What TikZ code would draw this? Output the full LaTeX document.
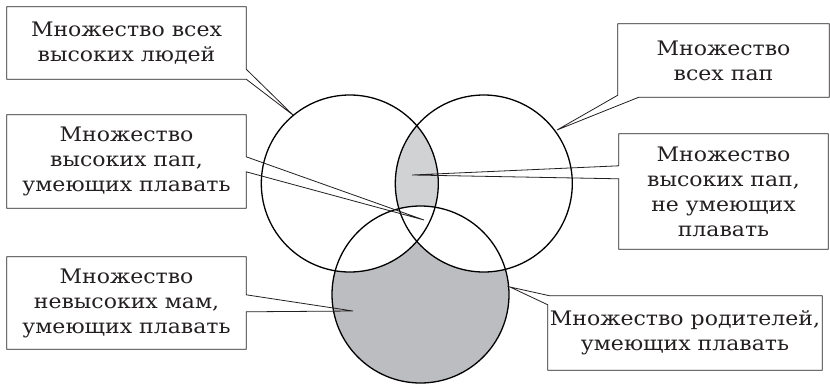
\documentclass[tikz,border=0pt]{standalone}
\usepackage{fontspec}
\setmainfont[FakeStretch=1.1]{DejaVu Serif}
\usetikzlibrary{calc}
\definecolor{lens}{RGB}{209,210,212}
\definecolor{lowfill}{RGB}{188,189,192}
\definecolor{ink}{RGB}{35,31,32}
\begin{document}
\begin{tikzpicture}[x=1pt,y=-1pt,
  lbl/.style={text=ink, font=\fontsize{20}{25}\selectfont, align=center, inner sep=0pt},
  callout/.style={draw=ink, line width=0.8pt, line join=miter},
  ring/.style={draw=black, line width=1.3pt}]
\useasboundingbox (0,0) rectangle (830,383);
% circle centres
\coordinate (cl) at (349.8,183.5);
\coordinate (cr) at (483.8,183.5);
\coordinate (cb) at (420.5,294.5);
% shading
\fill[lowfill] (cb) circle (88.5);
\fill[white] (cl) circle (88.5);
\fill[white] (cr) circle (88.5);
\begin{scope}
  \clip (cl) circle (88.5);
  \clip (cr) circle (88.5);
  \fill[lens, even odd rule] (200,50) rectangle (650,383) (cb) circle (88.5);
\end{scope}
\draw[ring] (cl) circle (88.5);
\draw[ring] (cr) circle (88.5);
\draw[ring] (cb) circle (88.5);
% pointer tips
\coordinate (t1) at (293,115);
\coordinate (t2) at (557,130);
\coordinate (t3) at (424,220);
\coordinate (t4) at (412,175);
\coordinate (t5) at (353,311);
\coordinate (t6) at (510,287);
% labels
\node[lbl, minimum width=239pt, minimum height=72pt] (b1) at (126.5,43) {Множество всех\\высоких людей};
\node[lbl, minimum width=211pt, minimum height=73pt] (b2) at (723.5,60.5) {Множество\\всех пап};
\node[lbl, minimum width=239pt, minimum height=93pt] (b3) at (126.5,161.5) {Множество\\высоких пап,\\умеющих плавать};
\node[lbl, minimum width=209pt, minimum height=115pt] (b4) at (723.5,191.5) {Множество\\высоких пап,\\не умеющих\\плавать};
\node[lbl, minimum width=239pt, minimum height=92pt] (b5) at (126.5,303) {Множество\\невысоких мам,\\умеющих плавать};
\node[lbl, minimum width=274pt, minimum height=74pt] (b6) at (685,333) {Множество родителей,\\умеющих плавать};
% callout outlines
\draw[callout] (b1.north west) -- (b1.north east) -- ([yshift=10pt]b1.south east) -- (t1) -- (b1.south east) -- (b1.south west) -- cycle;
\draw[callout] (b2.north west) -- (b2.north east) -- (b2.south east) -- ([xshift=21pt]b2.south west) -- (t2) -- ([yshift=2pt]b2.south west) -- cycle;
\draw[callout] (b3.north west) -- (b3.north east) -- ([yshift=-42pt]b3.north east) -- (t3) -- ([yshift=-57pt]b3.north east) -- (b3.south east) -- (b3.south west) -- cycle;
\draw[callout] (b4.north west) -- (b4.north east) -- (b4.south east) -- (b4.south west) -- ([yshift=-45pt]b4.north west) -- (t4) -- ([yshift=-32pt]b4.north west) -- cycle;
\draw[callout] (b5.north west) -- (b5.north east) -- ([yshift=-38pt]b5.north east) -- (t5) -- ([yshift=-55pt]b5.north east) -- (b5.south east) -- (b5.south west) -- cycle;
\draw[callout] ([xshift=2pt]b6.north west) -- (b6.north east) -- (b6.south east) -- (b6.south west) -- ([yshift=-9pt]b6.north west) -- (t6) -- cycle;
\end{tikzpicture}
\end{document}
